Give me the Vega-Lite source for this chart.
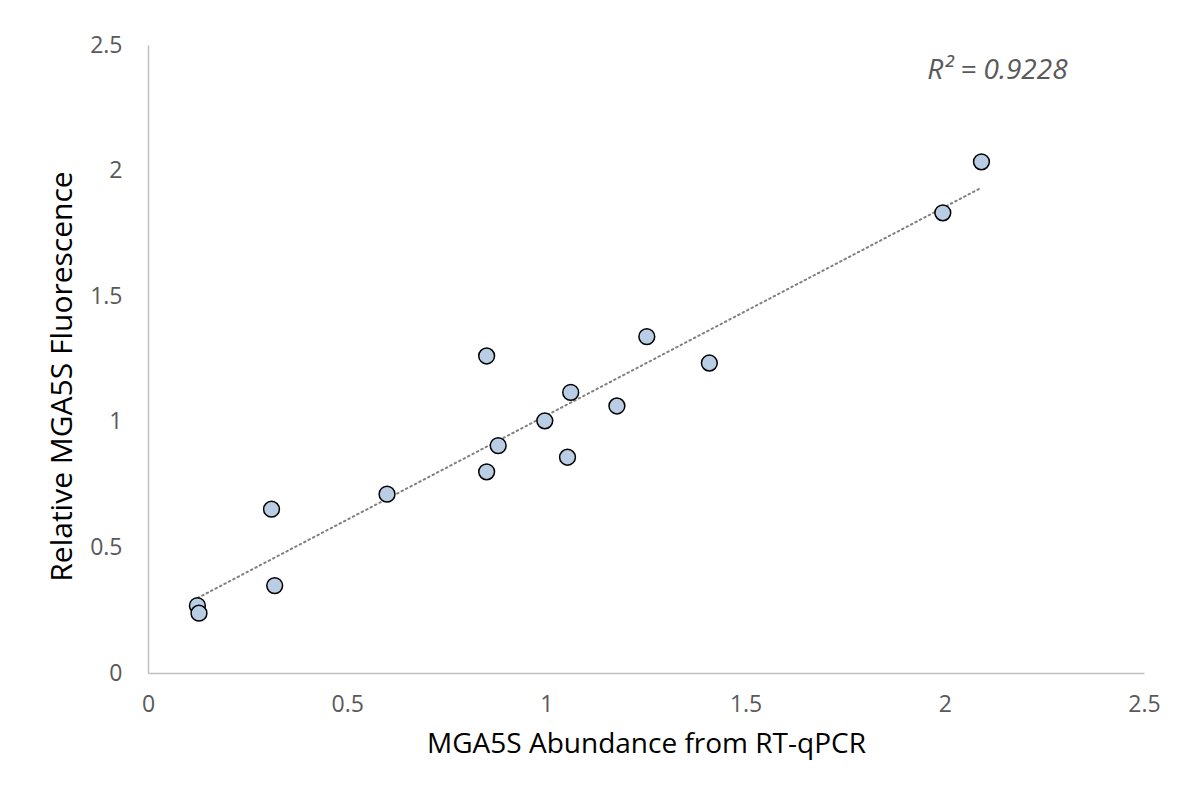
{
  "$schema": "https://vega.github.io/schema/vega-lite/v6.json",
  "autosize": "none",
  "width": 996,
  "height": 628,
  "padding": {"left": 148, "top": 45, "right": 33, "bottom": 122},
  "background": "white",
  "config": {
    "view": {"stroke": null},
    "font": "Open Sans"
  },
  "datasets": {
    "points": [
      {"abundance": 0.124, "fluorescence": 0.268},
      {"abundance": 0.128, "fluorescence": 0.238},
      {"abundance": 0.31, "fluorescence": 0.652},
      {"abundance": 0.318, "fluorescence": 0.348},
      {"abundance": 0.60, "fluorescence": 0.712},
      {"abundance": 0.850, "fluorescence": 0.801},
      {"abundance": 0.850, "fluorescence": 1.262},
      {"abundance": 0.879, "fluorescence": 0.905},
      {"abundance": 0.996, "fluorescence": 1.004},
      {"abundance": 1.053, "fluorescence": 0.859},
      {"abundance": 1.061, "fluorescence": 1.117},
      {"abundance": 1.177, "fluorescence": 1.063},
      {"abundance": 1.252, "fluorescence": 1.339},
      {"abundance": 1.409, "fluorescence": 1.234},
      {"abundance": 1.995, "fluorescence": 1.832},
      {"abundance": 2.092, "fluorescence": 2.035}
    ],
    "trend": [
      {"abundance": 0.125, "fluorescence": 0.299},
      {"abundance": 2.086, "fluorescence": 1.927}
    ],
    "label": [
      {"abundance": 2.132, "fluorescence": 2.397, "text": "R² = 0.9228"}
    ]
  },
  "layer": [
    {
      "data": {"name": "trend"},
      "mark": {"type": "line", "color": "#808080", "strokeWidth": 2, "strokeDash": [1.5, 3.5], "strokeCap": "round"},
      "encoding": {
        "x": {"field": "abundance", "type": "quantitative", "scale": {"domain": [0, 2.5], "nice": false, "zero": false},
          "axis": {"title": "MGA5S Abundance from RT-qPCR", "values": [0, 0.5, 1, 1.5, 2, 2.5], "format": "~g", "grid": false, "ticks": false,
            "domainColor": "#c0c0c0", "domainWidth": 1.5, "labelColor": "#595959", "labelFontSize": 23, "labelPadding": 20,
            "labelFlush": false, "titleFontSize": 28, "titleFontWeight": "normal", "titleColor": "#000000", "titlePadding": 14}},
        "y": {"field": "fluorescence", "type": "quantitative", "scale": {"domain": [0, 2.5], "nice": false, "zero": false},
          "axis": {"title": "Relative MGA5S Fluorescence", "values": [0, 0.5, 1, 1.5, 2, 2.5], "format": "~g", "grid": false, "ticks": false,
            "domainColor": "#c0c0c0", "domainWidth": 1.5, "labelColor": "#595959", "labelFontSize": 23, "labelPadding": 26,
            "labelFlush": false, "titleFontSize": 30, "titleFontWeight": "normal", "titleColor": "#000000", "titlePadding": 12, "titleY": 331}}
      }
    },
    {
      "data": {"name": "points"},
      "mark": {"type": "point", "shape": "circle", "filled": true, "fill": "#b9cde5", "stroke": "#000000", "strokeWidth": 1.5, "size": 250, "opacity": 1},
      "encoding": {
        "x": {"field": "abundance", "type": "quantitative"},
        "y": {"field": "fluorescence", "type": "quantitative"}
      }
    },
    {
      "data": {"name": "label"},
      "mark": {"type": "text", "fontStyle": "italic", "fontSize": 28, "color": "#595959", "align": "center", "baseline": "middle"},
      "encoding": {
        "x": {"field": "abundance", "type": "quantitative"},
        "y": {"field": "fluorescence", "type": "quantitative"},
        "text": {"field": "text"}
      }
    }
  ]
}
